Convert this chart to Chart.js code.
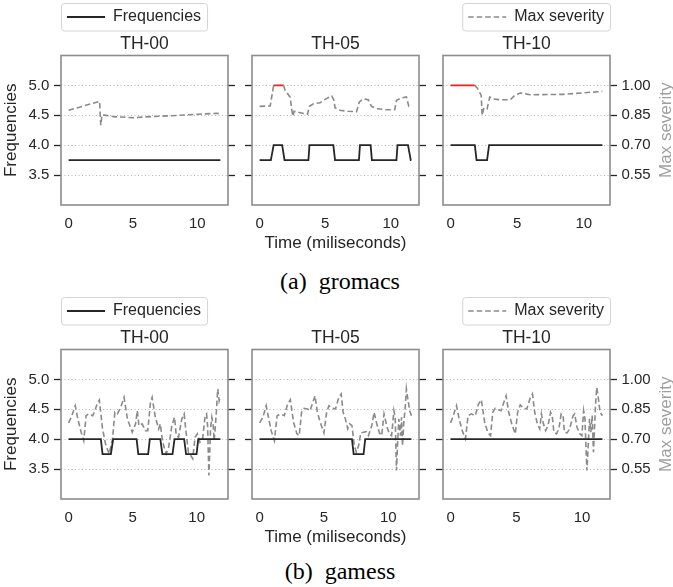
<!DOCTYPE html>
<html>
<head>
<meta charset="utf-8">
<script src="https://cdn.jsdelivr.net/npm/chart.js@4.4.1/dist/chart.umd.min.js"></script>
<style>
  body { margin: 0; background: #fff; }
  #wrap { position: relative; width: 673px; height: 587px; overflow: hidden; background: #fff; }
  .caption { position: absolute; left: 0; width: 680px; text-align: center; line-height: 28px;
             font-size: 24px; font-family: 'Liberation Serif', 'Times New Roman', serif; color: #000; }
</style>
</head>
<body>
<div id="wrap">
  <div class="caption" style="top: 267px">(a)&nbsp; gromacs</div>
  <div class="caption" style="top: 557px">(b)&nbsp; gamess</div>
</div>
<script>
// tick values shared by every panel
const xTicks = [0, 5, 10];
const freqTicks = [3.5, 4.0, 4.5, 5.0];
const sevTicks = [0.55, 0.70, 0.85, 1.00];

// gromacs, TH-00
const gromacs00FreqT = [0, 11.8];
const gromacs00Freq = [3.75, 3.75];
const gromacs00SevT = [0, 2.41, 2.5, 2.6, 3.5, 5.0, 6.0, 8.0, 10.0, 11.5, 11.8];
const gromacs00Sev = [0.875, 0.92, 0.80, 0.853, 0.843, 0.838, 0.842, 0.848, 0.855, 0.86, 0.857];

// gromacs, TH-05
const gromacs05FreqT = [0, 0.86, 1.07, 1.72, 1.9, 3.72, 3.8, 5.62, 5.75, 7.57, 7.65, 8.46, 8.56, 10.43, 10.51, 11.31, 11.52, 11.57];
const gromacs05Freq = [3.75, 3.75, 4, 4, 3.75, 3.75, 4, 4, 3.75, 3.75, 4, 4, 3.75, 3.75, 4, 4, 3.75, 3.75];
const gromacs05SevT = [0, 0.81, 1.07, 1.83, 1.95, 2.33, 2.46, 2.53, 2.63, 3.09, 3.65, 3.8, 4.1, 4.61, 4.99, 5.5, 5.67,
  5.75, 6.13, 6.76, 7.39, 7.6, 7.9, 8.28, 8.53, 8.91, 9.67, 10.3, 10.43, 10.81, 11.19, 11.37, 11.57];
const gromacs05Sev = [0.895, 0.897, 1.0, 1.0, 0.975, 0.94, 0.875, 0.845, 0.87, 0.863, 0.855, 0.895, 0.908, 0.913, 0.93, 0.947, 0.925,
  0.888, 0.875, 0.87, 0.868, 0.917, 0.932, 0.928, 0.895, 0.883, 0.878, 0.878, 0.925, 0.937, 0.942, 0.895, 0.888];

// gromacs, TH-10
const gromacs10FreqT = [0, 1.82, 1.95, 2.74, 2.89, 11.4];
const gromacs10Freq = [4, 4, 3.75, 3.75, 4, 4];
const gromacs10SevT = [0, 1.82, 2.0, 2.3, 2.37, 2.5, 2.74, 2.94, 3.24, 3.74, 4.48, 4.86, 5.23, 5.98, 8.47, 11.4];
const gromacs10Sev = [1.0, 1.0, 0.987, 0.95, 0.85, 0.888, 0.883, 0.942, 0.932, 0.928, 0.928, 0.953, 0.962, 0.953, 0.955, 0.97];

// gamess, TH-00
const gamess00FreqT = [0, 2.52, 2.65, 3.3, 3.48, 5.31, 5.44, 6.21, 6.34, 7.16, 7.32, 8.11, 8.27, 9.02, 9.17, 9.99, 10.12, 11.85];
const gamess00Freq = [4, 4, 3.75, 3.75, 4, 4, 3.75, 3.75, 4, 4, 3.75, 3.75, 4, 4, 3.75, 3.75, 4, 4];
const gamess00SevT = [0, 0.21, 0.52, 0.72, 0.98, 1.18, 1.37, 1.55, 1.88, 2.01, 2.27, 2.40, 2.65, 2.91, 3.17, 3.43, 3.61, 3.81,
  4.07, 4.33, 4.59, 4.97, 5.23, 5.36, 5.49, 5.74, 6.00, 6.18, 6.39, 6.52, 6.77, 7.03, 7.16, 7.29, 7.42, 7.62, 7.81, 8.06,
  8.27, 8.40, 8.58, 8.84, 9.02, 9.17, 9.35, 9.53, 9.69, 9.87, 10.05, 10.25, 10.46, 10.66, 10.77, 10.85, 10.95, 11.08,
  11.18, 11.28, 11.36, 11.44, 11.54, 11.64, 11.75, 11.85];
const gamess00Sev = [0.782, 0.81, 0.868, 0.802, 0.735, 0.693, 0.818, 0.827, 0.818, 0.835, 0.885, 0.897, 0.752, 0.668, 0.627, 0.702, 0.835, 0.827,
  0.86, 0.91, 0.802, 0.735, 0.777, 0.843, 0.768, 0.777, 0.743, 0.743, 0.885, 0.91, 0.81, 0.752, 0.777, 0.71, 0.668, 0.627, 0.66, 0.768,
  0.81, 0.72, 0.71, 0.802, 0.827, 0.735, 0.635, 0.618, 0.602, 0.71, 0.727, 0.685, 0.702, 0.818, 0.827, 0.768, 0.518, 0.752,
  0.81, 0.777, 0.693, 0.752, 0.843, 0.952, 0.893, 0.918];

// gamess, TH-05
const gamess05FreqT = [0, 7.18, 7.31, 8.08, 8.21, 11.8];
const gamess05Freq = [4, 4, 3.75, 3.75, 4, 4];
const gamess05SevT = [0, 0.26, 0.51, 0.69, 0.90, 1.15, 1.36, 1.62, 1.92, 2.18, 2.39, 2.64, 2.90, 3.08, 3.26, 3.46, 3.72, 3.92,
  4.18, 4.31, 4.49, 4.75, 5.00, 5.21, 5.39, 5.64, 5.90, 6.16, 6.34, 6.49, 6.67, 6.85, 7.00, 7.18, 7.36, 7.52, 7.70, 7.87,
  8.08, 8.28, 8.46, 8.72, 8.90, 9.11, 9.31, 9.49, 9.67, 9.88, 10.08, 10.26, 10.44, 10.54, 10.64, 10.72, 10.82, 10.95,
  11.03, 11.11, 11.21, 11.31, 11.41, 11.52, 11.67, 11.80];
const gamess05Sev = [0.782, 0.81, 0.868, 0.81, 0.743, 0.693, 0.818, 0.827, 0.818, 0.877, 0.898, 0.785, 0.727, 0.718, 0.835, 0.855, 0.852, 0.843,
  0.893, 0.918, 0.835, 0.777, 0.732, 0.835, 0.868, 0.855, 0.852, 0.91, 0.927, 0.835, 0.802, 0.752, 0.777, 0.768, 0.668, 0.635, 0.668, 0.732,
  0.735, 0.738, 0.718, 0.768, 0.835, 0.777, 0.732, 0.718, 0.827, 0.768, 0.727, 0.718, 0.843, 0.81, 0.543, 0.668, 0.802, 0.718,
  0.81, 0.668, 0.785, 0.852, 0.952, 0.902, 0.843, 0.818];

// gamess, TH-10
const gamess10FreqT = [0, 11.55];
const gamess10Freq = [4, 4];
const gamess10SevT = [0, 0.20, 0.45, 0.63, 0.88, 1.13, 1.33, 1.58, 1.88, 2.13, 2.34, 2.59, 2.84, 3.04, 3.21, 3.39, 3.64, 3.84,
  4.09, 4.22, 4.42, 4.67, 4.92, 5.10, 5.30, 5.55, 5.80, 6.05, 6.23, 6.40, 6.60, 6.78, 6.91, 7.06, 7.23, 7.41, 7.61, 7.73,
  7.86, 8.06, 8.24, 8.41, 8.56, 8.66, 8.86, 9.06, 9.32, 9.44, 9.62, 9.82, 9.99, 10.12, 10.22, 10.37, 10.47, 10.57,
  10.67, 10.77, 10.87, 10.97, 11.02, 11.12, 11.22, 11.37, 11.55];
const gamess10Sev = [0.782, 0.818, 0.868, 0.81, 0.743, 0.702, 0.818, 0.827, 0.818, 0.877, 0.898, 0.785, 0.732, 0.718, 0.835, 0.855, 0.848, 0.843,
  0.893, 0.918, 0.835, 0.773, 0.727, 0.835, 0.872, 0.855, 0.852, 0.905, 0.927, 0.835, 0.777, 0.752, 0.827, 0.777, 0.743, 0.768, 0.835, 0.818,
  0.735, 0.727, 0.752, 0.827, 0.818, 0.735, 0.732, 0.752, 0.818, 0.827, 0.76, 0.727, 0.718, 0.843, 0.802, 0.543, 0.668,
  0.802, 0.735, 0.818, 0.635, 0.785, 0.868, 0.96, 0.918, 0.835, 0.818];

const panels = [
  {title: 'TH-00', freqT: gromacs00FreqT, freq: gromacs00Freq, sevT: gromacs00SevT, sev: gromacs00Sev, col: 0, row: 0},
  {title: 'TH-05', freqT: gromacs05FreqT, freq: gromacs05Freq, sevT: gromacs05SevT, sev: gromacs05Sev, col: 1, row: 0},
  {title: 'TH-10', freqT: gromacs10FreqT, freq: gromacs10Freq, sevT: gromacs10SevT, sev: gromacs10Sev, col: 2, row: 0},
  {title: 'TH-00', freqT: gamess00FreqT, freq: gamess00Freq, sevT: gamess00SevT, sev: gamess00Sev, col: 0, row: 1},
  {title: 'TH-05', freqT: gamess05FreqT, freq: gamess05Freq, sevT: gamess05SevT, sev: gamess05Sev, col: 1, row: 1},
  {title: 'TH-10', freqT: gamess10FreqT, freq: gamess10Freq, sevT: gamess10SevT, sev: gamess10Sev, col: 2, row: 1},
];

// where each plot box sits on the page
const colX = [61, 252, 443], rowY = [55, 349];
const boxW = 167, boxH = 149;

const FAMILY = "'Liberation Sans', Arial, Helvetica, sans-serif";
const INK = '#262626';
Chart.defaults.font.family = FAMILY;
Chart.defaults.color = INK;

// gray frame round the plot area
const plotBox = {
  id: 'plotBox',
  afterDraw(chart) {
    const {ctx, chartArea: a} = chart;
    ctx.save();
    ctx.strokeStyle = '#8c8c8c';
    ctx.lineWidth = 1.6;
    ctx.strokeRect(a.left, a.top, a.right - a.left, a.bottom - a.top);
    ctx.restore();
  }
};

// matplotlib-like rounded box behind the legend entry
const legendFrame = {
  id: 'legendFrame',
  beforeDraw(chart) {
    const lg = chart.legend;
    if (!lg || !lg.options.display || !lg.legendHitBoxes || !lg.legendHitBoxes.length) return;
    const hb = lg.legendHitBoxes[0];
    const pad = lg.options.labels.padding;
    const cy = hb.top + hb.height / 2;
    const x = hb.left - pad + 0.5, y = cy - 13.5, w = hb.width + 2 * pad, h = 27.5, r = 3;
    const ctx = chart.ctx;
    ctx.save();
    ctx.beginPath();
    ctx.moveTo(x + r, y);
    ctx.arcTo(x + w, y, x + w, y + h, r);
    ctx.arcTo(x + w, y + h, x, y + h, r);
    ctx.arcTo(x, y + h, x, y, r);
    ctx.arcTo(x, y, x + w, y, r);
    ctx.closePath();
    ctx.fillStyle = '#fff';
    ctx.fill();
    ctx.strokeStyle = '#d4d4d4';
    ctx.lineWidth = 1;
    ctx.stroke();
    ctx.restore();
  }
};

// right axis title, read bottom-to-top like the left one
const sideTitle = {
  id: 'sideTitle',
  afterDraw(chart, args, opts) {
    if (!opts || !opts.text) return;
    const {ctx, chartArea: a} = chart;
    ctx.save();
    ctx.translate(a.right + opts.offset, (a.top + a.bottom) / 2);
    ctx.rotate(-Math.PI / 2);
    ctx.font = '17px ' + FAMILY;
    ctx.fillStyle = opts.color;
    ctx.textAlign = 'center';
    ctx.textBaseline = 'middle';
    ctx.fillText(opts.text, 0, 0);
    ctx.restore();
  }
};

const atMax = c => c.p0.parsed.y >= 0.999 && c.p1.parsed.y >= 0.999;
const fixTicks = vals => s => { s.ticks = vals.map(v => ({value: v})); };

// legend samples take dash / width from the line, not from the point style
const lineLabels = chart =>
  Chart.defaults.plugins.legend.labels.generateLabels(chart).map(item => {
    const ds = chart.data.datasets[item.datasetIndex];
    item.lineDash = ds.borderDash || [];
    item.lineWidth = ds.borderWidth;
    item.strokeStyle = ds.borderColor;
    return item;
  });

function config(p) {
  const T = Math.max(p.freqT[p.freqT.length - 1], p.sevT[p.sevT.length - 1]);
  const first = p.col === 0, last = p.col === 2;
  const legendText = first ? 'Frequencies' : (last ? 'Max severity' : null);
  return {
    type: 'line',
    data: {
      datasets: [
        {
          label: 'Frequencies',
          data: p.freqT.map((t, i) => ({x: t, y: p.freq[i]})),
          yAxisID: 'y',
          borderColor: INK,
          borderWidth: 1.8,
          pointRadius: 0,
          tension: 0
        },
        {
          label: 'Max severity',
          data: p.sevT.map((t, i) => ({x: t, y: p.sev[i]})),
          yAxisID: 'y2',
          borderColor: '#8a8a8a',
          borderWidth: 1.6,
          borderDash: [5.5, 3],
          pointRadius: 0,
          tension: 0,
          segment: {
            borderColor: c => atMax(c) ? '#ff1a1a' : undefined,
            borderDash: c => atMax(c) ? [] : undefined
          }
        }
      ]
    },
    options: {
      responsive: false,
      animation: false,
      events: [],
      layout: {padding: 0},
      plugins: {
        legend: {
          display: !!legendText,
          position: 'top',
          align: first ? 'start' : 'end',
          fullSize: false,
          weight: 3000,
          labels: {
            usePointStyle: true,
            pointStyle: 'line',
            pointStyleWidth: 38,
            padding: 6,
            color: INK,
            font: {size: 16},
            generateLabels: lineLabels,
            filter: item => item.text === legendText
          }
        },
        title: {
          display: true,
          text: p.title,
          fullSize: false,
          weight: 100,
          color: INK,
          font: {size: 17.5, weight: 'normal', lineHeight: 1},
          padding: {top: 0, bottom: 3}
        },
        tooltip: {enabled: false},
        sideTitle: last ? {text: 'Max severity', offset: 56, color: '#9f9f9f'} : {}
      },
      scales: {
        x: {
          type: 'linear',
          min: -0.05 * T,
          max: 1.05 * T,
          afterBuildTicks: fixTicks(xTicks),
          afterFit: s => { s.height = 52; },
          grid: {display: false, drawTicks: false},
          border: {display: false},
          ticks: {font: {size: 15}, padding: 9.5, color: INK, callback: v => String(v)},
          title: {
            display: p.col === 1,
            text: 'Time (miliseconds)',
            color: INK,
            font: {size: 17},
            padding: {top: 0, bottom: 3.5}
          }
        },
        y: {
          position: 'left',
          min: 3.0,
          max: 5.5,
          afterBuildTicks: fixTicks(freqTicks),
          afterFit: s => { s.width = first ? 61 : 12; },
          grid: {color: '#b4b4b4', lineWidth: 1, tickColor: INK, tickLength: 7, tickWidth: 1.3, tickBorderDash: []},
          border: {display: false, dash: [1, 2.5]},
          ticks: {display: first, font: {size: 15}, padding: 4.7, color: INK, callback: v => v.toFixed(1)},
          title: {display: first, text: 'Frequencies', color: INK, font: {size: 17}, padding: {top: 1.3, bottom: 0}}
        },
        y2: {
          position: 'right',
          min: 0.40,
          max: 1.15,
          afterBuildTicks: fixTicks(sevTicks),
          afterFit: s => { s.width = last ? 63 : 12; },
          grid: {drawOnChartArea: false, tickColor: INK, tickLength: 7, tickWidth: 1.3, tickBorderDash: []},
          border: {display: false},
          ticks: {display: last, font: {size: 15}, padding: 4.4, color: INK, callback: v => v.toFixed(2)}
        }
      }
    },
    plugins: [legendFrame, plotBox, sideTitle]
  };
}

const wrap = document.getElementById('wrap');

function makeChart(p, w, h) {
  const cv = document.createElement('canvas');
  cv.width = w;
  cv.height = h;
  cv.style.position = 'absolute';
  cv.style.left = '0px';
  cv.style.top = '0px';
  wrap.appendChild(cv);
  return new Chart(cv, config(p));
}

// draw once, measure the plot area, then redraw at the size that puts the box where it belongs
panels.forEach(p => {
  let w = boxW + 140, h = boxH + 140;
  let chart = makeChart(p, w, h);
  let a = chart.chartArea;
  w = Math.round(w + boxW - (a.right - a.left));
  h = Math.round(h + boxH - (a.bottom - a.top));
  const old = chart.canvas;
  chart.destroy();
  old.remove();
  chart = makeChart(p, w, h);
  a = chart.chartArea;
  chart.canvas.style.left = (colX[p.col] - a.left) + 'px';
  chart.canvas.style.top = (rowY[p.row] - a.top) + 'px';
});
</script>
</body>
</html>
